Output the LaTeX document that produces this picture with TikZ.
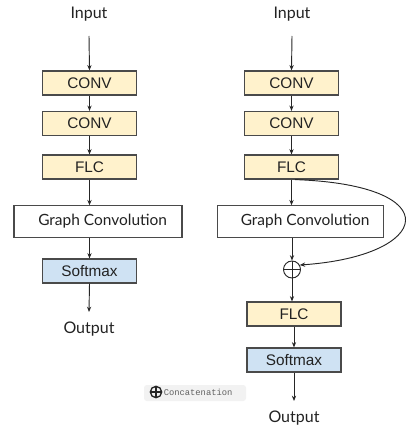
\documentclass[tikz,border=0pt]{standalone}
\usepackage{fontspec}
\setmainfont{Lato}
\newfontfamily\arialf{Liberation Sans}
\newfontfamily\courf{Liberation Mono}
\usetikzlibrary{calc,arrows.meta}
\definecolor{boxyellow}{HTML}{FFF2CC}
\definecolor{boxblue}{HTML}{CFE2F3}
\definecolor{edgegray}{HTML}{4A4A4A}
\definecolor{txt}{HTML}{222222}
\tikzset{
  blk/.style={draw=edgegray, line width=0.9pt, inner sep=0pt, minimum width=70.5pt, minimum height=18pt, font=\arialf\fontsize{11.5}{13}\selectfont, text=txt},
  yblk/.style={blk, fill=boxyellow},
  bblk/.style={blk, fill=boxblue},
  wblk/.style={draw=edgegray, line width=0.9pt, inner sep=0pt, fill=white, minimum height=23.5pt, font=\fontsize{11.6}{14}\selectfont, text=txt},
  lbl/.style={font=\fontsize{12}{14}\selectfont, text=txt, inner sep=0pt},
  conn/.style={draw=black!85, line width=0.7pt, -{Stealth[length=4pt,width=3.2pt]}},
  oplus/.style 2 args={circle, draw=black!85, line width=#2, minimum size=#1, inner sep=0pt,
    path picture={\draw[black!85, line width=#2] (path picture bounding box.north) -- (path picture bounding box.south) (path picture bounding box.west) -- (path picture bounding box.east);}},
}
\begin{document}
\begin{tikzpicture}[x=0.75pt,y=-0.75pt]
\useasboundingbox (0,0) rectangle (415,435);
% left column
\node[lbl] (inL) at (89,14) {Input};
\coordinate (inLb) at (89,36);
\node[yblk] (c1L) at (89.5,83) {CONV};
\node[yblk] (c2L) at (89.5,123.5) {CONV};
\node[yblk] (fL) at (89.5,167) {FLC};
\node[wblk, minimum width=126pt] (gL) at (98,221.5) {\hspace*{7pt}Graph Convolution};
\node[bblk] (sL) at (89.5,271) {Softmax};
\node[lbl] (outL) at (89,329) {Output};
\coordinate (outLt) at (89,312);
\draw[conn] (inLb) -- (c1L.north);
\draw[conn] (c1L) -- (c2L);
\draw[conn] (c2L) -- (fL);
\draw[conn] (fL.south) -- (gL.north -| fL.south);
\draw[conn] (gL.south -| sL.north) -- (sL.north);
\draw[conn] (sL.south) -- (outLt);
% right column
\node[lbl] (inR) at (292,14) {Input};
\coordinate (inRb) at (292,36);
\node[yblk] (c1R) at (291.5,83) {CONV};
\node[yblk] (c2R) at (291.5,123.5) {CONV};
\node[yblk] (fR) at (291.5,167) {FLC};
\node[wblk, minimum width=125pt] (gR) at (300.5,221.5) {\hspace*{7pt}Graph Convolution};
\node[oplus={12.75pt}{0.7pt}] (pl) at (292,269.5) {};
\node[yblk] (f2R) at (294,314) {FLC};
\node[bblk] (sR) at (294,360) {Softmax};
\node[lbl] (outR) at (294,418) {Output};
\coordinate (outRt) at (294,401);
\draw[conn] (inRb) -- (c1R.north);
\draw[conn] (c1R) -- (c2R);
\draw[conn] (c2R) -- (fR);
\draw[conn] (fR.south) -- (gR.north -| fR.south);
\draw[conn] (gR.south -| pl.north) -- (pl.north);
\draw[conn] (pl.south) -- (f2R.north -| pl.south);
\draw[conn] (f2R) -- (sR);
\draw[conn] (sR.south) -- (outRt);
\draw[conn] ($(fR.south)+(3.5,0)$) .. controls (450,185) and (432,256) .. (pl.30);
% legend
\node[fill=black!5, rounded corners=2pt, minimum width=76.5pt, minimum height=12pt, inner sep=0pt] (leg) at (195,393) {};
\node[oplus={8.5pt}{1pt}] (legp) at (156,392) {};
\node[anchor=west, inner sep=0pt, font=\courf\fontsize{6.6}{8}\selectfont, text=black!62] (legt) at (163.5,392.5) {Concatenation};
\end{tikzpicture}
\end{document}
